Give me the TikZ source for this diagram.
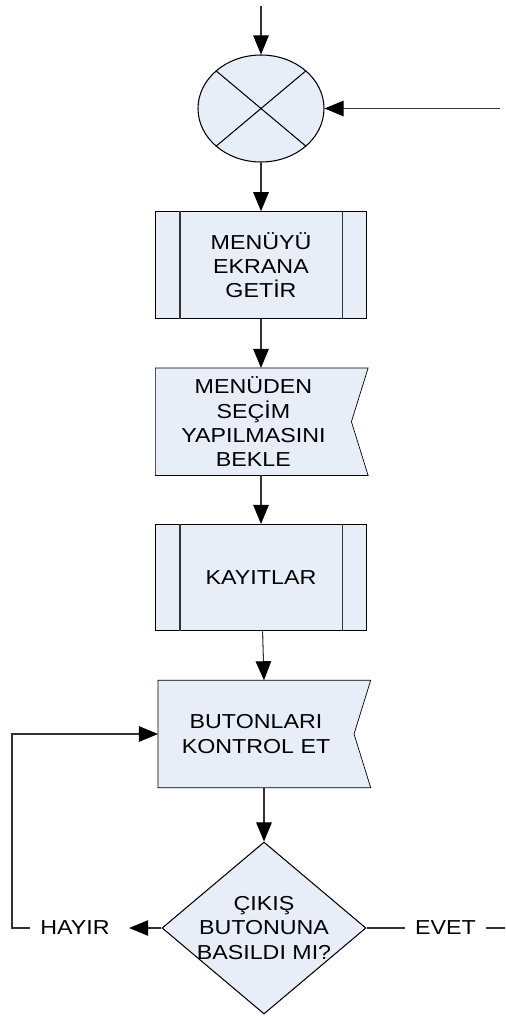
\documentclass[tikz,border=0pt]{standalone}
\usepackage{fontspec}
\setmainfont[FakeStretch=1.15]{Liberation Sans}
\usetikzlibrary{arrows.meta,positioning,calc,shapes.geometric,backgrounds}
\definecolor{boxfill}{RGB}{232,238,247}

\begin{document}
\begin{tikzpicture}[x=0.2mm,y=-0.2mm,>={Triangle[length=3.8mm,width=3.1mm,color=black]},
   font=\fontsize{11.5}{13.8}\selectfont,line width=0.6pt,
   shp/.style={draw=black,fill=boxfill},
   conn/.style={draw=black!80},
   prc/.style={shp,rectangle,align=center,minimum width=4.22cm,minimum height=2.13cm,inner sep=2pt},
   wait/.style={rectangle,align=center,minimum width=3.9cm,minimum height=2.13cm,inner sep=2pt},
   lbl/.style={inner xsep=2mm,inner ysep=1pt}]
  \useasboundingbox (0,0) rectangle (506,1017);

  % ---- summing junction ----
  \coordinate (top) at (261,6);
  \coordinate (back) at (500,108.5);
  \node[shp,ellipse,minimum width=2.52cm,minimum height=2.14cm,inner sep=0pt] (sum) at (261,108.5) {};
  \draw (sum.40) -- (sum.220);
  \draw (sum.140) -- (sum.320);

  % ---- steps ----
  \node[prc] (menu) at (261,265) {MENÜYÜ\\EKRANA\\GETİR};
  \node[wait] (choice) at (253.4,421.7) {MENÜDEN\\SEÇİM\\YAPILMASINI\\BEKLE};
  \node[prc] (recs) at (261,577.7) {KAYITLAR};
  \node[wait] (btns) at (256,734) {BUTONLARI\\KONTROL ET};
  \node[shp,diamond,aspect=1.186,inner sep=-0.7mm,minimum width=4.08cm,minimum height=3.44cm,align=center] (exitq) at (264,928) {ÇIKIŞ\\BUTONUNA\\BASILDI MI?};
  \foreach \n in {menu,recs}{
    \draw[black!80] ([xshift=5mm]\n.north west) -- ([xshift=5mm]\n.south west);
    \draw[black!80] ([xshift=-5mm]\n.north east) -- ([xshift=-5mm]\n.south east);}
  % notched outline behind the text
  \begin{scope}[on background layer]
    \foreach \n in {choice,btns}
      \draw[shp] (\n.north west) -- ([xshift=3.34mm]\n.north east) -- (\n.east)
        -- ([xshift=3.34mm]\n.south east) -- (\n.south west) -- cycle;
  \end{scope}

  % ---- branch labels ----
  \node[lbl] (no) at (75,928) {HAYIR};
  \node[lbl] (yes) at (445.5,928) {EVET};
  \coordinate (loop) at (12,928);
  \coordinate (out) at (505,928);

  % ---- connectors ----
  \draw[conn,->] (top) -- (sum);
  \draw[conn,->] (back) -- (sum);
  \draw[conn,->] (sum) -- (menu);
  \draw[conn,->] (menu) -- (menu |- choice.north);
  \draw[conn,->] (choice.south -| menu) -- (recs);
  \draw[conn,->] (recs) -- (exitq |- btns.north);
  \draw[conn,->] (exitq |- btns.south) -- (exitq);
  \draw[conn,->,shorten >=1.8mm] (exitq) -- (no);
  \draw[conn,->] (no) -- (loop) |- (btns);
  \draw[conn] (exitq) -- (yes) -- (out);
\end{tikzpicture}
\end{document}
